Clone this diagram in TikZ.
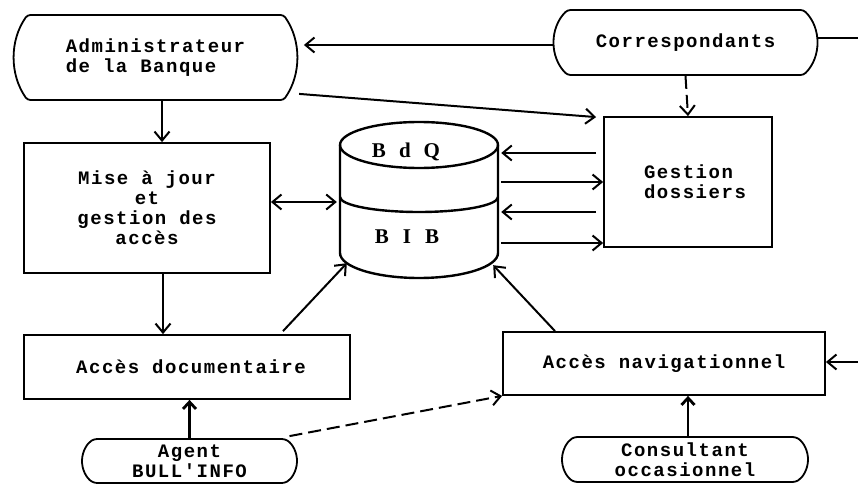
\documentclass[tikz,border=0pt]{standalone}
\usepackage{fontspec}
\newfontfamily\tw[LetterSpace=8]{Liberation Mono}
\newfontfamily\sr{Liberation Serif}
\usetikzlibrary{arrows.meta,shapes.misc,calc}
\begin{document}
\begin{tikzpicture}[x=1pt,y=1pt,
  box/.style={draw, line width=1.8pt, rectangle, inner sep=0pt,
    font={\tw\bfseries\fontsize{19}{20}\selectfont}},
  term/.style={box, rounded rectangle, rounded rectangle arc length=#1, rounded corners=3pt},
  conn/.style={line width=2pt},
  arr/.style={conn, -{Straight Barb[length=9pt,width=15pt]}},
  darr/.style={conn, {Straight Barb[length=9pt,width=15pt]}-{Straight Barb[length=9pt,width=15pt]}},
  barr/.style={line width=2.8pt, -{Straight Barb[length=7pt,width=13pt]}},
  dsh/.style={dash pattern=on 13pt off 6pt},
  cylline/.style={line width=2.4pt},
  dbl/.style={font={\sr\bfseries\fontsize{21}{22}\selectfont}}
]
\useasboundingbox (0,0) rectangle (858,-484);

% nodes
\node[term=70, minimum width=283, minimum height=85, align=left] (admin) at (155.5,-57.5) {Administrateur\\de la Banque};
\node[term=90, minimum width=263, minimum height=65] (corr) at (685.5,-42.5) {Correspondants};
\node[box, minimum width=246, minimum height=130, align=center] (maj) at (147,-208) {Mise à jour\\et\\gestion des\\accès};
\node[box, minimum width=168, minimum height=130, align=left] (gd) at (688,-182) {\hspace*{14pt}Gestion\\\hspace*{14pt}dossiers};
\node[box, minimum width=326, minimum height=64] (ad) at (187,-367) {\hspace*{8pt}Accès documentaire};
\node[box, minimum width=322, minimum height=63] (an) at (664,-363.5) {Accès navigationnel};
\node[term=115, minimum width=215, minimum height=44, align=center] (agent) at (189.5,-461) {Agent\\BULL'INFO};
\node[term=115, minimum width=246, minimum height=45, align=center] (cons) at (685,-459.5) {Consultant\\occasionnel};

% cylinder
\node[inner sep=0pt, minimum width=164, minimum height=156] (cyl) at (419,-200) {};
\draw[cylline] (340,-145) -- (340,-253) arc[start angle=180,end angle=360,x radius=79pt,y radius=25pt] -- (498,-145);
\draw[cylline] (419,-145) ellipse[x radius=79pt, y radius=23pt];
\draw[cylline] (340,-197) arc[start angle=180,end angle=360,x radius=79pt,y radius=15pt];
\node[dbl] (bdq) at (406,-152) {B\hspace{13pt}d\hspace{13pt}Q};
\node[dbl] (bib) at (407,-237) {B\hspace{14pt}I\hspace{14pt}B};

% connectors
\draw[arr, shorten >=6pt] (corr.west |- 0,-45) -- (admin.east |- 0,-45);
\coordinate (edgeR) at (858,-38);
\draw[conn] (corr.east |- edgeR) -- (edgeR);
\draw[arr, dsh] (corr.south) -- (gd.north);
\draw[arr] ($(admin.south east)+(15,7)$) -- ($(gd.north west)+(-7,-1)$);
\draw[arr] ($(admin.south)+(6.5,0)$) -- ($(maj.north)+(15,0)$);
\draw[darr] (maj.east |- 0,-202) -- (cyl.west |- 0,-202);
\draw[arr, shorten <=7pt] (gd.west |- 0,-153) -- (cyl.east |- 0,-153);
\draw[arr] (cyl.east |- 0,-182) -- (gd.west |- 0,-182);
\draw[arr, shorten <=7pt] (gd.west |- 0,-212) -- (cyl.east |- 0,-212);
\draw[arr] (cyl.east |- 0,-243) -- (gd.west |- 0,-243);
\draw[arr] ($(maj.south)+(16,0)$) -- ($(ad.north)+(-24,0)$);
\draw[arr] ($(ad.north)+(96,3)$) -- ($(cyl.south west)+(10,15)$);
\draw[arr] ($(an.north)+(-109,0)$) -- ($(cyl.south east)+(-8,13)$);
\coordinate (edgeR2) at (858,-362);
\draw[arr] (edgeR2) -- (an.east |- edgeR2);
\draw[barr] (agent.north) -- (agent.north |- ad.south);
\draw[barr] ($(cons.north)+(3,0)$) -- ($(cons.north |- an.south)+(3,0)$);
\draw[arr, dsh] ($(agent.north)+(100,2)$) -- (an.south west);
\end{tikzpicture}
\end{document}
